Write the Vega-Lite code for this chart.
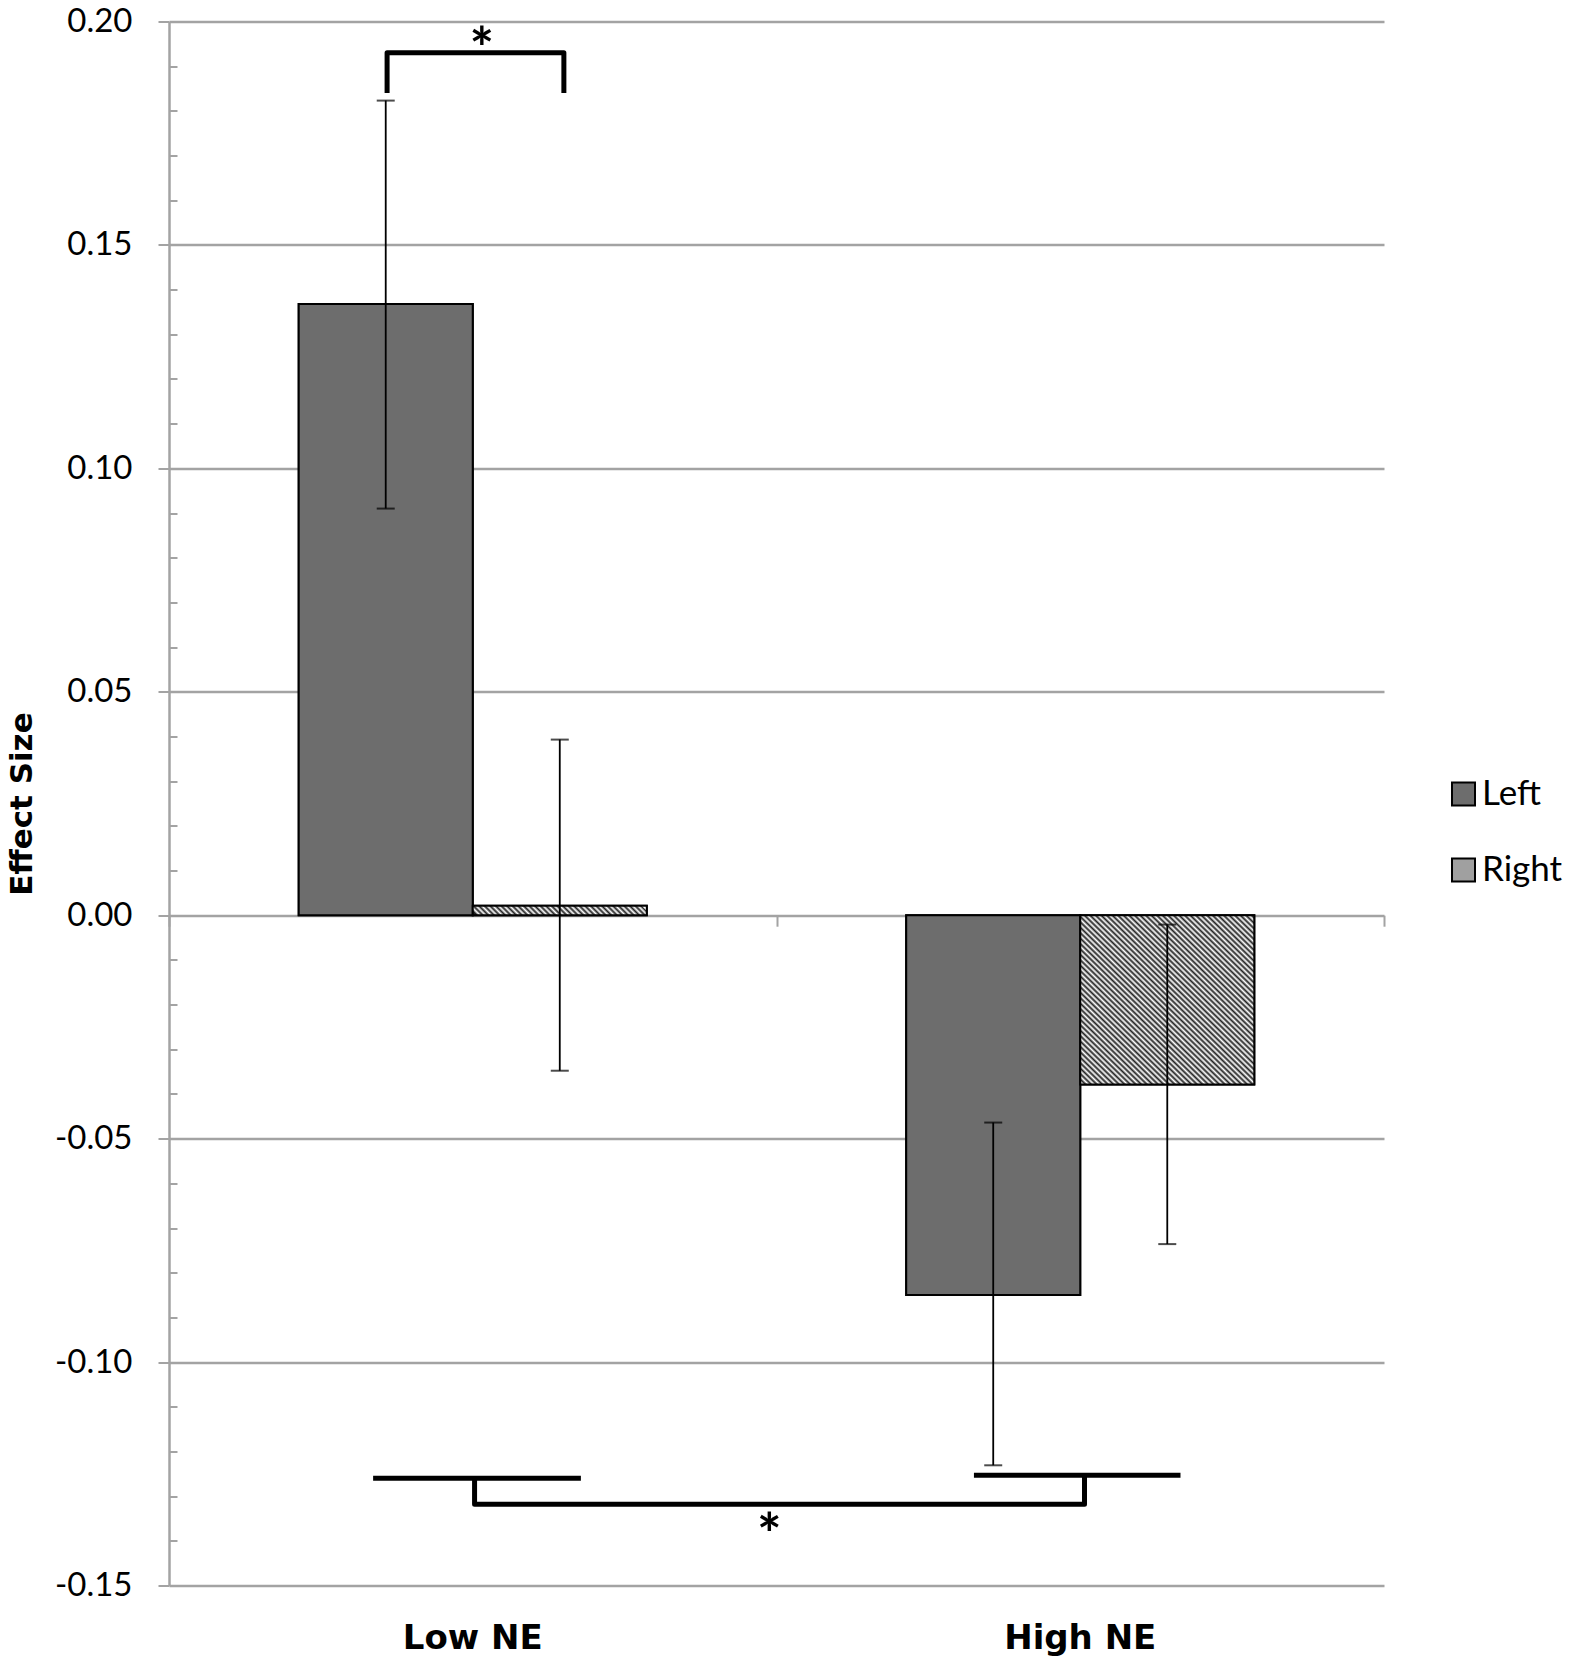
{
  "$schema": "https://vega.github.io/schema/vega-lite/v6.json",
  "autosize": "none",
  "padding": {"left": 169, "top": 21.5, "right": 189, "bottom": 83.5},
  "width": 1215,
  "height": 1564,
  "background": "#ffffff",
  "config": {"view": {"stroke": null}},
  "datasets": {
    "bars": [
      {"group": "Low NE", "side": "Left", "value": 0.1368, "lo": 0.0910, "hi": 0.1823},
      {"group": "Low NE", "side": "Right", "value": 0.0021, "lo": -0.0348, "hi": 0.0393},
      {"group": "High NE", "side": "Left", "value": -0.0850, "lo": -0.1231, "hi": -0.0464},
      {"group": "High NE", "side": "Right", "value": -0.0379, "lo": -0.0736, "hi": -0.0021}
    ],
    "brackets": [
      {"id": "top", "ord": 1, "u": 0.359, "v": 0.1840},
      {"id": "top", "ord": 2, "u": 0.359, "v": 0.1930},
      {"id": "top", "ord": 3, "u": 0.650, "v": 0.1930},
      {"id": "top", "ord": 4, "u": 0.650, "v": 0.1840},
      {"id": "bl", "ord": 1, "u": 0.336, "v": -0.1260},
      {"id": "bl", "ord": 2, "u": 0.678, "v": -0.1260},
      {"id": "br", "ord": 1, "u": 1.325, "v": -0.1253},
      {"id": "br", "ord": 2, "u": 1.665, "v": -0.1253},
      {"id": "bb", "ord": 1, "u": 0.503, "v": -0.1260},
      {"id": "bb", "ord": 2, "u": 0.503, "v": -0.1318},
      {"id": "bb", "ord": 3, "u": 1.507, "v": -0.1318},
      {"id": "bb", "ord": 4, "u": 1.507, "v": -0.1253}
    ],
    "stars": [
      {"u": 0.515, "v": 0.1965, "label": "*"},
      {"u": 0.988, "v": -0.1361, "label": "*"}
    ]
  },
  "layer": [
    {
      "data": {"name": "bars"},
      "encoding": {
        "x": {
          "field": "group", "type": "nominal",
          "scale": {"domain": ["Low NE", "High NE"], "paddingInner": 0.427, "paddingOuter": 0.2135},
          "axis": {"title": null, "labelAngle": 0, "labelFont": "DejaVu Sans", "labelFontSize": 34, "labelFontWeight": "bold", "labelColor": "#000", "ticks": false, "tickSize": 0, "domain": false, "grid": false, "labelPadding": 36}
        },
        "xOffset": {"field": "side", "type": "nominal", "scale": {"domain": ["Left", "Right"]}}
      },
      "layer": [
        {
          "mark": {"type": "bar", "stroke": "#000", "strokeWidth": 2},
          "encoding": {
            "y": {
              "field": "value", "type": "quantitative",
              "scale": {"domain": [-0.15, 0.2], "nice": false, "zero": false},
              "axis": {
                "values": [-0.15, -0.14, -0.13, -0.12, -0.11, -0.1, -0.09, -0.08, -0.07, -0.06, -0.05, -0.04, -0.03, -0.02, -0.01, 0, 0.01, 0.02, 0.03, 0.04, 0.05, 0.06, 0.07, 0.08, 0.09, 0.1, 0.11, 0.12, 0.13, 0.14, 0.15, 0.16, 0.17, 0.18, 0.19, 0.2],
                "format": ".2f",
                "labelExpr": "abs(datum.value*20 - round(datum.value*20)) < 0.001 ? replace(datum.label, '−', '-') : ''",
                "labelFont": "Lato", "labelFontSize": 33, "labelColor": "#000", "labelPadding": 26,
                "labelOverlap": false, "labelFlush": false,
                "tickSize": {"condition": {"test": "abs(datum.value*20 - round(datum.value*20)) < 0.001", "value": 11}, "value": -8},
                "tickColor": "#a3a3a3", "tickWidth": 2,
                "grid": true, "gridColor": "#a3a3a3", "gridWidth": 2.5,
                "gridOpacity": {"condition": {"test": "abs(datum.value*20 - round(datum.value*20)) < 0.001", "value": 1}, "value": 0},
                "domainColor": "#a3a3a3", "domainWidth": 2.5,
                "title": "Effect Size", "titleFont": "DejaVu Sans", "titleFontSize": 31, "titleFontWeight": "bold", "titleColor": "#000",
                "titleAngle": -90, "titleX": -147, "titleY": 782, "titleAlign": "center", "titleBaseline": "middle"
              }
            },
            "color": {
              "field": "side", "type": "nominal",
              "scale": {"domain": ["Left", "Right"], "range": ["#6d6d6d", "#a0a0a0"]},
              "legend": {
                "orient": "none", "legendX": 1277, "legendY": 755,
                "title": null,
                "symbolType": "square", "symbolSize": 529, "symbolStrokeColor": "#000", "symbolStrokeWidth": 2, "symbolOpacity": 1,
                "labelFont": "Lato", "labelFontSize": 35, "labelColor": "#000", "labelOffset": 1, "rowPadding": 40,
                "encode": {"symbols": {"update": {
                  "stroke": {"value": "#000"},
                  "strokeWidth": {"value": 2},
                  "fill": [
                    {"test": "datum.value === 'Left'", "value": "#6d6d6d"},
                    {"value": {"gradient": "linear", "x1": 0, "y1": 1, "x2": 1, "y2": 0, "stops": [
                      {"offset": 0, "color": "#222"}, {"offset": 0.0625, "color": "#fff"}, {"offset": 0.125, "color": "#222"}, {"offset": 0.1875, "color": "#fff"}, {"offset": 0.25, "color": "#222"}, {"offset": 0.3125, "color": "#fff"}, {"offset": 0.375, "color": "#222"}, {"offset": 0.4375, "color": "#fff"}, {"offset": 0.5, "color": "#222"},
                      {"offset": 0.5625, "color": "#fff"}, {"offset": 0.625, "color": "#222"}, {"offset": 0.6875, "color": "#fff"}, {"offset": 0.75, "color": "#222"}, {"offset": 0.8125, "color": "#fff"}, {"offset": 0.875, "color": "#222"}, {"offset": 0.9375, "color": "#fff"}, {"offset": 1, "color": "#222"}
                    ]}}
                  ]
                }}}
              }
            }
          }
        },
        {
          "mark": {"type": "bar", "stroke": "#000", "strokeWidth": 2},
          "encoding": {
            "y": {"field": "value", "type": "quantitative"},
            "fill": {
              "condition": [
                {"test": "datum.side === 'Right' && datum.group === 'High NE'", "value": {"gradient": "linear", "x1": 0, "y1": 1, "x2": 1, "y2": 0, "stops": [
                    {"offset": 0, "color": "#222"}, {"offset": 0.008, "color": "#fff"}, {"offset": 0.016, "color": "#222"}, {"offset": 0.024, "color": "#fff"}, {"offset": 0.032, "color": "#222"}, {"offset": 0.04, "color": "#fff"}, {"offset": 0.048, "color": "#222"}, {"offset": 0.056, "color": "#fff"}, {"offset": 0.064, "color": "#222"}, {"offset": 0.072, "color": "#fff"},
                    {"offset": 0.08, "color": "#222"}, {"offset": 0.088, "color": "#fff"}, {"offset": 0.096, "color": "#222"}, {"offset": 0.104, "color": "#fff"}, {"offset": 0.112, "color": "#222"}, {"offset": 0.12, "color": "#fff"}, {"offset": 0.128, "color": "#222"}, {"offset": 0.136, "color": "#fff"}, {"offset": 0.144, "color": "#222"}, {"offset": 0.152, "color": "#fff"},
                    {"offset": 0.16, "color": "#222"}, {"offset": 0.168, "color": "#fff"}, {"offset": 0.176, "color": "#222"}, {"offset": 0.184, "color": "#fff"}, {"offset": 0.192, "color": "#222"}, {"offset": 0.2, "color": "#fff"}, {"offset": 0.208, "color": "#222"}, {"offset": 0.216, "color": "#fff"}, {"offset": 0.224, "color": "#222"}, {"offset": 0.232, "color": "#fff"},
                    {"offset": 0.24, "color": "#222"}, {"offset": 0.248, "color": "#fff"}, {"offset": 0.256, "color": "#222"}, {"offset": 0.264, "color": "#fff"}, {"offset": 0.272, "color": "#222"}, {"offset": 0.28, "color": "#fff"}, {"offset": 0.288, "color": "#222"}, {"offset": 0.296, "color": "#fff"}, {"offset": 0.304, "color": "#222"}, {"offset": 0.312, "color": "#fff"},
                    {"offset": 0.32, "color": "#222"}, {"offset": 0.328, "color": "#fff"}, {"offset": 0.336, "color": "#222"}, {"offset": 0.344, "color": "#fff"}, {"offset": 0.352, "color": "#222"}, {"offset": 0.36, "color": "#fff"}, {"offset": 0.368, "color": "#222"}, {"offset": 0.376, "color": "#fff"}, {"offset": 0.384, "color": "#222"}, {"offset": 0.392, "color": "#fff"},
                    {"offset": 0.4, "color": "#222"}, {"offset": 0.408, "color": "#fff"}, {"offset": 0.416, "color": "#222"}, {"offset": 0.424, "color": "#fff"}, {"offset": 0.432, "color": "#222"}, {"offset": 0.44, "color": "#fff"}, {"offset": 0.448, "color": "#222"}, {"offset": 0.456, "color": "#fff"}, {"offset": 0.464, "color": "#222"}, {"offset": 0.472, "color": "#fff"},
                    {"offset": 0.48, "color": "#222"}, {"offset": 0.488, "color": "#fff"}, {"offset": 0.496, "color": "#222"}, {"offset": 0.504, "color": "#fff"}, {"offset": 0.512, "color": "#222"}, {"offset": 0.52, "color": "#fff"}, {"offset": 0.528, "color": "#222"}, {"offset": 0.536, "color": "#fff"}, {"offset": 0.544, "color": "#222"}, {"offset": 0.552, "color": "#fff"},
                    {"offset": 0.56, "color": "#222"}, {"offset": 0.568, "color": "#fff"}, {"offset": 0.576, "color": "#222"}, {"offset": 0.584, "color": "#fff"}, {"offset": 0.592, "color": "#222"}, {"offset": 0.6, "color": "#fff"}, {"offset": 0.608, "color": "#222"}, {"offset": 0.616, "color": "#fff"}, {"offset": 0.624, "color": "#222"}, {"offset": 0.632, "color": "#fff"},
                    {"offset": 0.64, "color": "#222"}, {"offset": 0.648, "color": "#fff"}, {"offset": 0.656, "color": "#222"}, {"offset": 0.664, "color": "#fff"}, {"offset": 0.672, "color": "#222"}, {"offset": 0.68, "color": "#fff"}, {"offset": 0.688, "color": "#222"}, {"offset": 0.696, "color": "#fff"}, {"offset": 0.704, "color": "#222"}, {"offset": 0.712, "color": "#fff"},
                    {"offset": 0.72, "color": "#222"}, {"offset": 0.728, "color": "#fff"}, {"offset": 0.736, "color": "#222"}, {"offset": 0.744, "color": "#fff"}, {"offset": 0.752, "color": "#222"}, {"offset": 0.76, "color": "#fff"}, {"offset": 0.768, "color": "#222"}, {"offset": 0.776, "color": "#fff"}, {"offset": 0.784, "color": "#222"}, {"offset": 0.792, "color": "#fff"},
                    {"offset": 0.8, "color": "#222"}, {"offset": 0.808, "color": "#fff"}, {"offset": 0.816, "color": "#222"}, {"offset": 0.824, "color": "#fff"}, {"offset": 0.832, "color": "#222"}, {"offset": 0.84, "color": "#fff"}, {"offset": 0.848, "color": "#222"}, {"offset": 0.856, "color": "#fff"}, {"offset": 0.864, "color": "#222"}, {"offset": 0.872, "color": "#fff"},
                    {"offset": 0.88, "color": "#222"}, {"offset": 0.888, "color": "#fff"}, {"offset": 0.896, "color": "#222"}, {"offset": 0.904, "color": "#fff"}, {"offset": 0.912, "color": "#222"}, {"offset": 0.92, "color": "#fff"}, {"offset": 0.928, "color": "#222"}, {"offset": 0.936, "color": "#fff"}, {"offset": 0.944, "color": "#222"}, {"offset": 0.952, "color": "#fff"},
                    {"offset": 0.96, "color": "#222"}, {"offset": 0.968, "color": "#fff"}, {"offset": 0.976, "color": "#222"}, {"offset": 0.984, "color": "#fff"}, {"offset": 0.992, "color": "#222"}, {"offset": 1, "color": "#fff"}
                  ]}},
                {"test": "datum.side === 'Right' && datum.group === 'Low NE'", "value": {"gradient": "linear", "x1": 0, "y1": 0.527, "x2": 1, "y2": 0.473, "stops": [
                    {"offset": 0, "color": "#222"}, {"offset": 0.016, "color": "#fff"}, {"offset": 0.032, "color": "#222"}, {"offset": 0.048, "color": "#fff"}, {"offset": 0.064, "color": "#222"}, {"offset": 0.08, "color": "#fff"}, {"offset": 0.096, "color": "#222"}, {"offset": 0.112, "color": "#fff"}, {"offset": 0.128, "color": "#222"}, {"offset": 0.144, "color": "#fff"},
                    {"offset": 0.16, "color": "#222"}, {"offset": 0.176, "color": "#fff"}, {"offset": 0.192, "color": "#222"}, {"offset": 0.208, "color": "#fff"}, {"offset": 0.224, "color": "#222"}, {"offset": 0.24, "color": "#fff"}, {"offset": 0.256, "color": "#222"}, {"offset": 0.272, "color": "#fff"}, {"offset": 0.288, "color": "#222"}, {"offset": 0.304, "color": "#fff"},
                    {"offset": 0.32, "color": "#222"}, {"offset": 0.336, "color": "#fff"}, {"offset": 0.352, "color": "#222"}, {"offset": 0.368, "color": "#fff"}, {"offset": 0.384, "color": "#222"}, {"offset": 0.4, "color": "#fff"}, {"offset": 0.416, "color": "#222"}, {"offset": 0.432, "color": "#fff"}, {"offset": 0.448, "color": "#222"}, {"offset": 0.464, "color": "#fff"},
                    {"offset": 0.48, "color": "#222"}, {"offset": 0.496, "color": "#fff"}, {"offset": 0.512, "color": "#222"}, {"offset": 0.528, "color": "#fff"}, {"offset": 0.544, "color": "#222"}, {"offset": 0.56, "color": "#fff"}, {"offset": 0.576, "color": "#222"}, {"offset": 0.592, "color": "#fff"}, {"offset": 0.608, "color": "#222"}, {"offset": 0.624, "color": "#fff"},
                    {"offset": 0.64, "color": "#222"}, {"offset": 0.656, "color": "#fff"}, {"offset": 0.672, "color": "#222"}, {"offset": 0.688, "color": "#fff"}, {"offset": 0.704, "color": "#222"}, {"offset": 0.72, "color": "#fff"}, {"offset": 0.736, "color": "#222"}, {"offset": 0.752, "color": "#fff"}, {"offset": 0.768, "color": "#222"}, {"offset": 0.784, "color": "#fff"},
                    {"offset": 0.8, "color": "#222"}, {"offset": 0.816, "color": "#fff"}, {"offset": 0.832, "color": "#222"}, {"offset": 0.848, "color": "#fff"}, {"offset": 0.864, "color": "#222"}, {"offset": 0.88, "color": "#fff"}, {"offset": 0.896, "color": "#222"}, {"offset": 0.912, "color": "#fff"}, {"offset": 0.928, "color": "#222"}, {"offset": 0.944, "color": "#fff"},
                    {"offset": 0.96, "color": "#222"}, {"offset": 0.976, "color": "#fff"}, {"offset": 0.992, "color": "#222"}, {"offset": 1, "color": "#fff"}
                  ]}}
              ],
              "value": "#6d6d6d"
            }
          }
        },
        {
          "mark": {"type": "rule", "color": "#000", "strokeWidth": 1.8},
          "encoding": {
            "y": {"field": "lo", "type": "quantitative"},
            "y2": {"field": "hi"}
          }
        },
        {
          "mark": {"type": "tick", "color": "#000", "thickness": 2, "size": 18},
          "encoding": {
            "y": {"field": "lo", "type": "quantitative"}
          }
        },
        {
          "mark": {"type": "tick", "color": "#000", "thickness": 2, "size": 18},
          "encoding": {
            "y": {"field": "hi", "type": "quantitative"}
          }
        }
      ]
    },
    {
      "layer": [
        {
          "data": {"name": "brackets"},
          "mark": {"type": "line", "color": "#000", "strokeWidth": 5, "strokeJoin": "round", "strokeCap": "butt"},
          "encoding": {
            "x": {
              "field": "u", "type": "quantitative",
              "scale": {"domain": [0, 2], "nice": false, "zero": false},
              "axis": {"orient": "top", "offset": -893.7, "values": [0, 1, 2], "labels": false, "domain": false, "grid": false, "title": null, "tickSize": -11, "tickColor": "#a3a3a3", "tickWidth": 2}
            },
            "y": {"field": "v", "type": "quantitative"},
            "detail": {"field": "id"},
            "order": {"field": "ord", "type": "quantitative"}
          }
        },
        {
          "data": {"name": "stars"},
          "mark": {"type": "text", "font": "Lato", "fontSize": 58, "fontWeight": "bold", "align": "center", "baseline": "middle", "dy": 15, "color": "#000"},
          "encoding": {
            "x": {"field": "u", "type": "quantitative"},
            "y": {"field": "v", "type": "quantitative"},
            "text": {"field": "label"}
          }
        }
      ]
    }
  ],
  "resolve": {"scale": {"x": "independent"}, "axis": {"x": "independent"}}
}
